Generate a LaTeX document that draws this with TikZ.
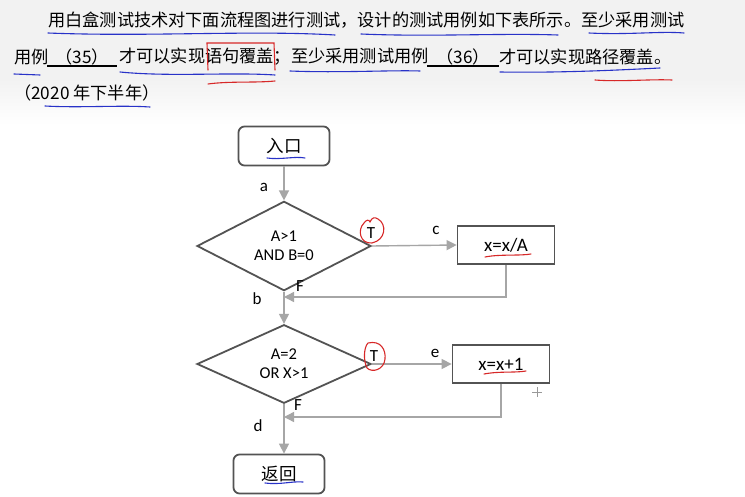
\documentclass[tikz,border=0pt]{standalone}
\usepackage{fontspec}
\setmainfont{Carlito}
\newfontfamily\cjk{Noto Sans CJK SC}
\usetikzlibrary{shapes.geometric,arrows.meta}

\begin{document}
\begin{tikzpicture}
    [x=1pt,y=-1pt,
     line/.style={draw=gray!70,line width=1.4pt},
     arr/.style={line,-{Triangle[length=10pt,width=10pt]}},
     term/.style={draw=gray!65!black,line width=1.8pt,rounded corners=6pt,
       minimum width=91pt,minimum height=39pt,font=\cjk\fontsize{17.5}{20}\selectfont},
     proc/.style={draw=gray!65!black,line width=1.8pt,
       minimum width=97pt,minimum height=38pt,font=\fontsize{19}{22}\selectfont},
     cond/.style={diamond,draw=gray!65!black,line width=1.8pt,inner sep=0pt,
       minimum width=174pt,minimum height=78pt,align=center,
       font=\fontsize{16.5}{19}\selectfont},
     lbl/.style={font=\fontsize{17}{20}\selectfont,inner sep=0pt},
     txt/.style={anchor=west,inner sep=0pt,font=\cjk\fontsize{17.2}{20}\selectfont},
     bluepen/.style={draw={rgb,255:red,40;green,50;blue,200},line width=1.1pt,line cap=round},
     redpen/.style={draw={rgb,255:red,215;green,40;blue,40},line width=1.1pt,line cap=round}]
  % background
  \useasboundingbox (0,0) rectangle (745,497);
  \fill[white] (0,0) rectangle (745,497);
  \fill[gray!10] (0,0) rectangle (745,80);
  \shade[top color=gray!10,bottom color=white] (0,80) rectangle (745,125);

  % question text
  \node[txt] (l1) at (48,20) {用白盒测试技术对下面流程图进行测试，设计的测试用例如下表所示。至少采用测试};
  \node[txt] (l2a) at (14,57) {用例};
  \node[txt,anchor=center] (b35) at (82,57) {（35）};
  \node[txt] (l2b) at (119,57) {才可以实现语句覆盖；至少采用测试用例};
  \node[txt,anchor=center] (b36) at (463,57) {（36）};
  \node[txt] (l2c) at (499,57) {才可以实现路径覆盖。};
  \node[txt] (l3) at (14,93) {（2020 年下半年）};
  \draw[line width=1.2pt] (47,66) -- (117,66);
  \draw[line width=1.2pt] (427,66) -- (499,66);

  % pen marks on the text
  \draw[bluepen] (48,33) .. controls (150,37) and (250,30) .. (335,35);
  \draw[bluepen] (361,34) .. controls (430,37) and (500,33) .. (558,35);
  \draw[bluepen] (589,33) .. controls (630,35) and (660,31) .. (684,33);
  \draw[bluepen] (14,74) -- (40,75);
  \draw[bluepen] (120,72) .. controls (170,77) and (230,72) .. (275,75);
  \draw[bluepen] (290,71) .. controls (340,73) and (390,70) .. (420,71);
  \draw[bluepen] (500,72) .. controls (560,73) and (620,70) .. (660,68);
  \draw[redpen] (208,84) .. controls (230,81) and (255,83) .. (275,81);
  \draw[redpen] (595,80) .. controls (620,82) and (650,79) .. (672,80);
  \draw[redpen] (208,70) -- (207,43) -- (274,43) -- (275,70);
  \draw[bluepen] (45,106) .. controls (80,108) and (120,105) .. (150,107);

  % flow chart
  \node[term] (in) at (284,146) {入口};
  \node[cond] (d1) at (284,246) {A\textgreater1\\AND B=0};
  \node[proc] (c1) at (506,245) {x=x/A};
  \node[cond] (d2) at (284,364) {A=2\\OR X\textgreater1};
  \node[proc] (c2) at (501,364) {x=x+1};
  \node[term] (out) at (279,474) {返回};
  \coordinate (j1) at (284,297);
  \coordinate (j2) at (284,417);

  \draw[arr] (in) -- (d1);
  \draw[arr] (d1.east) -- (c1.west);
  \draw[arr] (c1.south) |- (j1);
  \draw[arr] (d1.south) -- (d2.north);
  \draw[arr] (d2.east) -- (c2.west);
  \draw[arr] (c2.south) |- (j2);
  \draw[arr] (d2.south) -- (d2.south |- out.north);

  \node[lbl] (la) at (264,187) {a};
  \node[lbl] (lb) at (257,299) {b};
  \node[lbl] (lc) at (436,230) {c};
  \node[lbl] (ld) at (258,426) {d};
  \node[lbl] (le) at (435,353) {e};
  \node[lbl] (f1) at (300,286) {F};
  \node[lbl] (f2) at (298,405) {F};
  \node[lbl] (t1) at (371,233) {T};
  \node[lbl] (t2) at (374,356) {T};

  % pen marks on the chart
  \draw[redpen] (378,219) .. controls (387,224) and (386,240) .. (372,243)
    .. controls (360,244) and (357,230) .. (364,223) .. controls (366,220) and (369,219) .. (370,222)
    .. controls (372,217) and (375,217) .. (378,219);
  \draw[redpen] (368,343) .. controls (381,340) and (386,350) .. (385,359)
    .. controls (384,370) and (372,373) .. (367,368) .. controls (363,360) and (364,347) .. (368,343);
  \draw[bluepen] (267,158) .. controls (280,160) and (295,156) .. (305,158);
  \draw[bluepen] (265,483) .. controls (280,485) and (292,481) .. (303,482);
  \draw[redpen] (485,257) .. controls (500,254) and (520,256) .. (531,254);
  \draw[redpen] (484,374) .. controls (500,371) and (515,373) .. (526,371);
  \draw[gray!80,line width=0.8pt] (532,392) -- (542,392) (537,387) -- (537,397);
\end{tikzpicture}
\end{document}
